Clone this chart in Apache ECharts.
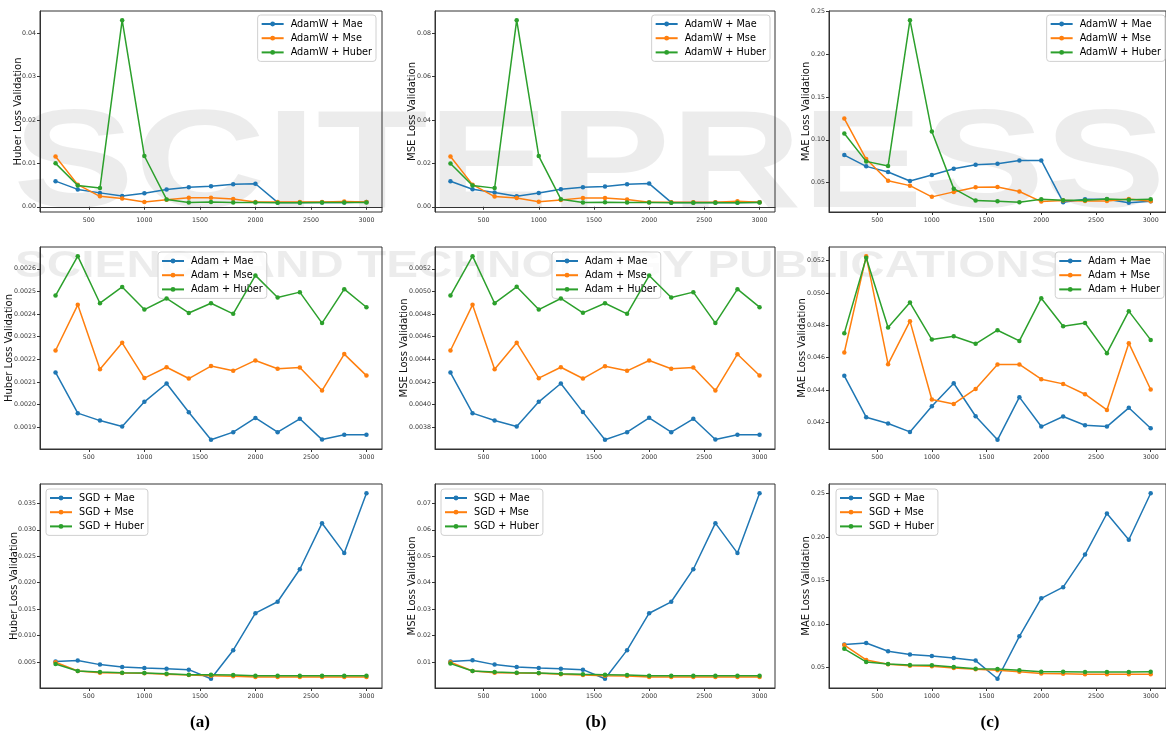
<!DOCTYPE html>
<html>
<head>
<meta charset="utf-8">
<script src="https://cdn.jsdelivr.net/npm/echarts@6/dist/echarts.min.js"></script>
<style>
  html, body { margin: 0; padding: 0; background: #fff; }
  #main { width: 1166px; height: 735px; }
</style>
</head>
<body>
<div id="main"></div>
<script>
// training steps on the x axis
const steps = [200, 400, 600, 800, 1000, 1200, 1400, 1600, 1800, 2000, 2200, 2400, 2600, 2800, 3000]
const xTicks = [500, 1000, 1500, 2000, 2500, 3000]

// AdamW row
const huberAdamWMae = [0.0059, 0.0040, 0.0032, 0.0025, 0.0031, 0.0040, 0.0045, 0.0047, 0.0052, 0.0053, 0.0010, 0.0010, 0.0010, 0.0010, 0.0011]
const huberAdamWMse = [0.0116, 0.0051, 0.0024, 0.0019, 0.0011, 0.0016, 0.0021, 0.0021, 0.0018, 0.0011, 0.0011, 0.0011, 0.0011, 0.0012, 0.0011]
const huberAdamWHuber = [0.0100, 0.0049, 0.0043, 0.0430, 0.0117, 0.0017, 0.0010, 0.0011, 0.0010, 0.0010, 0.0009, 0.0009, 0.0010, 0.0010, 0.0010]
const mseAdamWMae = [0.0118, 0.0081, 0.0066, 0.0049, 0.0063, 0.0081, 0.0090, 0.0093, 0.0104, 0.0107, 0.0020, 0.0020, 0.0020, 0.0020, 0.0021]
const mseAdamWMse = [0.0232, 0.0102, 0.0047, 0.0040, 0.0023, 0.0031, 0.0041, 0.0041, 0.0034, 0.0021, 0.0021, 0.0021, 0.0021, 0.0026, 0.0021]
const mseAdamWHuber = [0.0200, 0.0098, 0.0086, 0.0861, 0.0234, 0.0035, 0.0020, 0.0021, 0.0020, 0.0020, 0.0018, 0.0018, 0.0018, 0.0018, 0.0020]
const maeAdamWMae = [0.0821, 0.0690, 0.0624, 0.0519, 0.0589, 0.0662, 0.0709, 0.0720, 0.0759, 0.0759, 0.0272, 0.0307, 0.0307, 0.0264, 0.0283]
const maeAdamWMse = [0.1247, 0.0775, 0.0523, 0.0465, 0.0334, 0.0392, 0.0446, 0.0450, 0.0396, 0.0279, 0.0291, 0.0287, 0.0287, 0.0310, 0.0283]
const maeAdamWHuber = [0.1073, 0.0748, 0.0693, 0.2396, 0.1096, 0.0430, 0.0291, 0.0283, 0.0272, 0.0307, 0.0295, 0.0295, 0.0310, 0.0299, 0.0307]

// Adam row
const huberAdamMae = [0.002142, 0.001962, 0.001929, 0.001903, 0.002012, 0.002093, 0.001966, 0.001844, 0.001878, 0.001941, 0.001878, 0.001937, 0.001845, 0.001866, 0.001866]
const huberAdamMse = [0.002239, 0.002441, 0.002156, 0.002273, 0.002117, 0.002165, 0.002115, 0.002170, 0.002149, 0.002195, 0.002158, 0.002164, 0.002062, 0.002223, 0.002128]
const huberAdamHuber = [0.002482, 0.002656, 0.002448, 0.002520, 0.002420, 0.002469, 0.002405, 0.002448, 0.002401, 0.002571, 0.002473, 0.002497, 0.002360, 0.002510, 0.002430]
const mseAdamMae = [0.004283, 0.003924, 0.003859, 0.003806, 0.004024, 0.004186, 0.003933, 0.003688, 0.003756, 0.003883, 0.003756, 0.003874, 0.003691, 0.003732, 0.003732]
const mseAdamMse = [0.004478, 0.004882, 0.004313, 0.004546, 0.004233, 0.004330, 0.004230, 0.004339, 0.004298, 0.004389, 0.004316, 0.004328, 0.004124, 0.004445, 0.004257]
const mseAdamHuber = [0.004964, 0.005312, 0.004896, 0.005041, 0.004840, 0.004938, 0.004811, 0.004896, 0.004802, 0.005141, 0.004946, 0.004994, 0.004720, 0.005020, 0.004861]
const maeAdamMae = [0.04487, 0.04231, 0.04192, 0.04140, 0.04299, 0.04441, 0.04237, 0.04091, 0.04355, 0.04173, 0.04235, 0.04181, 0.04173, 0.04289, 0.04163]
const maeAdamMse = [0.04631, 0.05227, 0.04559, 0.04825, 0.04340, 0.04313, 0.04406, 0.04557, 0.04557, 0.04466, 0.04437, 0.04373, 0.04276, 0.04689, 0.04402]
const maeAdamHuber = [0.04751, 0.05217, 0.04786, 0.04940, 0.04711, 0.04732, 0.04685, 0.04769, 0.04703, 0.04967, 0.04794, 0.04814, 0.04627, 0.04887, 0.04709]

// SGD row
const huberSgdMae = [0.00506, 0.00525, 0.00449, 0.00405, 0.00386, 0.00373, 0.00354, 0.00182, 0.00722, 0.01422, 0.01638, 0.02254, 0.03125, 0.02559, 0.03691]
const huberSgdMse = [0.00494, 0.00328, 0.00297, 0.00290, 0.00284, 0.00265, 0.00252, 0.00239, 0.00227, 0.00214, 0.00214, 0.00214, 0.00214, 0.00214, 0.00214]
const huberSgdHuber = [0.00462, 0.00328, 0.00309, 0.00297, 0.00290, 0.00278, 0.00258, 0.00258, 0.00252, 0.00239, 0.00239, 0.00239, 0.00239, 0.00239, 0.00239]
const mseSgdMae = [0.01013, 0.01064, 0.00898, 0.00809, 0.00771, 0.00746, 0.00708, 0.00364, 0.01445, 0.02843, 0.03275, 0.04508, 0.06250, 0.05118, 0.07381]
const mseSgdMse = [0.00987, 0.00657, 0.00593, 0.00581, 0.00568, 0.00530, 0.00504, 0.00479, 0.00466, 0.00428, 0.00428, 0.00428, 0.00428, 0.00428, 0.00428]
const mseSgdHuber = [0.00936, 0.00657, 0.00619, 0.00593, 0.00581, 0.00555, 0.00530, 0.00517, 0.00504, 0.00479, 0.00479, 0.00479, 0.00479, 0.00479, 0.00479]
const maeSgdMae = [0.0766, 0.0782, 0.0689, 0.0651, 0.0635, 0.0612, 0.0581, 0.0373, 0.0859, 0.1295, 0.1423, 0.1797, 0.2268, 0.1967, 0.2500]
const maeSgdMse = [0.0759, 0.0589, 0.0539, 0.0523, 0.0515, 0.0496, 0.0481, 0.0469, 0.0454, 0.0434, 0.0431, 0.0423, 0.0423, 0.0423, 0.0423]
const maeSgdHuber = [0.0716, 0.0566, 0.0543, 0.0531, 0.0527, 0.0508, 0.0488, 0.0485, 0.0469, 0.0454, 0.0454, 0.0450, 0.0450, 0.0450, 0.0454]

// y tick labels for every panel
const huberAdamWTicks = [0, 0.01, 0.02, 0.03, 0.04]
const mseAdamWTicks = [0, 0.02, 0.04, 0.06, 0.08]
const maeAdamWTicks = [0.05, 0.10, 0.15, 0.20, 0.25]
const huberAdamTicks = [0.0019, 0.0020, 0.0021, 0.0022, 0.0023, 0.0024, 0.0025, 0.0026]
const mseAdamTicks = [0.0038, 0.0040, 0.0042, 0.0044, 0.0046, 0.0048, 0.0050, 0.0052]
const maeAdamTicks = [0.042, 0.044, 0.046, 0.048, 0.050, 0.052]
const huberSgdTicks = [0.005, 0.010, 0.015, 0.020, 0.025, 0.030, 0.035]
const mseSgdTicks = [0.01, 0.02, 0.03, 0.04, 0.05, 0.06, 0.07]
const maeSgdTicks = [0.05, 0.10, 0.15, 0.20, 0.25]

const colors = ['#1f77b4', '#ff7f0e', '#2ca02c']
const FONT = 'DejaVu Sans'

// layout of the 3x3 panels
const cols = [{ left: 40, width: 342 }, { left: 435, width: 340 }, { left: 829, width: 340 }]
const rows = [{ top: 11, height: 201 }, { top: 247, height: 202 }, { top: 484, height: 204 }]

const panels = [
  { r: 0, c: 0, opt: 'AdamW', yName: 'Huber Loss Validation', vals: [huberAdamWMae, huberAdamWMse, huberAdamWHuber], ticks: huberAdamWTicks, dec: 2, gap: 17, legend: { right: 790, top: 15 } },
  { r: 0, c: 1, opt: 'AdamW', yName: 'MSE Loss Validation', vals: [mseAdamWMae, mseAdamWMse, mseAdamWHuber], ticks: mseAdamWTicks, dec: 2, gap: 18, legend: { right: 396, top: 15 } },
  { r: 0, c: 2, opt: 'AdamW', yName: 'MAE Loss Validation', vals: [maeAdamWMae, maeAdamWMse, maeAdamWHuber], ticks: maeAdamWTicks, dec: 2, gap: 18, legend: { right: 1, top: 15 } },
  { r: 1, c: 0, opt: 'Adam', yName: 'Huber Loss Validation', vals: [huberAdamMae, huberAdamMse, huberAdamHuber], ticks: huberAdamTicks, dec: 4, gap: 26, legend: { left: 158, top: 252 } },
  { r: 1, c: 1, opt: 'Adam', yName: 'MSE Loss Validation', vals: [mseAdamMae, mseAdamMse, mseAdamHuber], ticks: mseAdamTicks, dec: 4, gap: 26, legend: { left: 552, top: 252 } },
  { r: 1, c: 2, opt: 'Adam', yName: 'MAE Loss Validation', vals: [maeAdamMae, maeAdamMse, maeAdamHuber], ticks: maeAdamTicks, dec: 3, gap: 22, legend: { right: 2, top: 252 } },
  { r: 2, c: 0, opt: 'SGD', yName: 'Huber Loss Validation', vals: [huberSgdMae, huberSgdMse, huberSgdHuber], ticks: huberSgdTicks, dec: 3, gap: 21, legend: { left: 46, top: 489 } },
  { r: 2, c: 1, opt: 'SGD', yName: 'MSE Loss Validation', vals: [mseSgdMae, mseSgdMse, mseSgdHuber], ticks: mseSgdTicks, dec: 2, gap: 18, legend: { left: 441, top: 489 } },
  { r: 2, c: 2, opt: 'SGD', yName: 'MAE Loss Validation', vals: [maeSgdMae, maeSgdMse, maeSgdHuber], ticks: maeSgdTicks, dec: 2, gap: 18, legend: { left: 836, top: 489 } }
]
const lossNames = ['Mae', 'Mse', 'Huber']

// matplotlib style 5% margins on both axes
const padMin = v => v.min - (v.max - v.min) * 0.05
const padMax = v => v.max + (v.max - v.min) * 0.05

const grid = [], xAxis = [], yAxis = [], series = [], legend = []

panels.forEach((p, i) => {
  grid.push({
    left: cols[p.c].left, width: cols[p.c].width,
    top: rows[p.r].top, height: rows[p.r].height,
    show: true, borderColor: '#333', borderWidth: 1, backgroundColor: 'transparent'
  })
  xAxis.push({
    type: 'value', gridIndex: i, min: padMin, max: padMax,
    axisLine: { lineStyle: { color: '#333' } },
    axisTick: { show: true, length: 3, customValues: xTicks, lineStyle: { color: '#333' } },
    axisLabel: { customValues: xTicks, fontSize: 6.3, color: '#333', fontFamily: FONT, margin: 5,
      formatter: v => String(v) },
    splitLine: { show: false }
  })
  yAxis.push({
    type: 'value', gridIndex: i, min: padMin, max: padMax, scale: true,
    name: p.yName, nameLocation: 'middle', nameGap: p.gap, nameMoveOverlap: false,
    nameTextStyle: { fontSize: 10, color: '#111', fontFamily: FONT },
    axisLine: { show: true, lineStyle: { color: '#333' } },
    axisTick: { show: true, length: 3, customValues: p.ticks, lineStyle: { color: '#333' } },
    axisLabel: { customValues: p.ticks, fontSize: 6.3, color: '#333', fontFamily: FONT, margin: 4,
      formatter: v => v.toFixed(p.dec) },
    splitLine: { show: false }
  })
  const names = lossNames.map(l => p.opt + ' + ' + l)
  p.vals.forEach((vals, k) => {
    series.push({
      name: names[k], type: 'line', xAxisIndex: i, yAxisIndex: i,
      data: steps.map((s, j) => [s, vals[j]]),
      symbol: 'circle', symbolSize: 4.5, showSymbol: true,
      lineStyle: { width: 1.5, color: colors[k] },
      itemStyle: { color: colors[k] },
      z: 3 + k
    })
  })
  legend.push(Object.assign({
    data: names, orient: 'vertical', itemWidth: 22, itemHeight: 6, itemGap: 2.2,
    padding: [3, 4, 3, 3],
    backgroundColor: 'rgba(255,255,255,0.8)', borderColor: '#d0d0d0', borderWidth: 1, borderRadius: 3,
    textStyle: { fontSize: 9.7, color: '#000', fontFamily: FONT, lineHeight: 12, padding: [0, 0, 0, 2] }
  }, p.legend))
})

// panel captions and faint publisher watermark
const graphic = [
  { type: 'text', z: -10, x: 13, y: 98, scaleX: 1.3, style: { text: 'SCITEPRESS', font: 'bold 140px "Liberation Sans"', fill: 'rgba(0,0,0,0.075)' } },
  { type: 'text', z: -10, x: 15, y: 248, scaleX: 1.29, style: { text: 'SCIENCE AND TECHNOLOGY PUBLICATIONS', font: 'bold 37px "Liberation Sans"', fill: 'rgba(0,0,0,0.075)' } }
]
const captions = [['(a)', 200], ['(b)', 596], ['(c)', 990]]
captions.forEach(([t, x]) => {
  graphic.push({ type: 'text', x: x, y: 723, style: { text: t, font: 'bold 17px "Liberation Serif"', fill: '#000', align: 'center', verticalAlign: 'middle' } })
})

const chart = echarts.init(document.getElementById('main'))
chart.setOption({
  animation: false,
  backgroundColor: '#fff',
  grid, xAxis, yAxis, series, legend, graphic
})
</script>
</body>
</html>
